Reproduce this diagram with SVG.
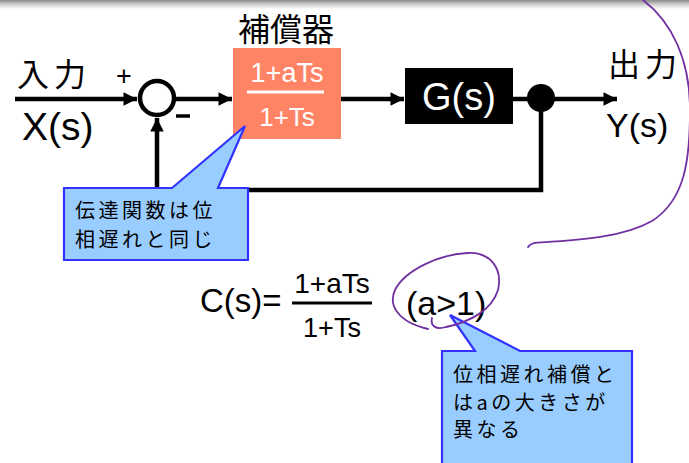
<svg xmlns="http://www.w3.org/2000/svg" width="689" height="463" viewBox="0 0 689 463">
<defs>
<linearGradient id="topShade" x1="0" y1="0" x2="0" y2="1">
<stop offset="0" stop-color="#8a8a8a"/>
<stop offset="0.5" stop-color="#d0d0d0"/>
<stop offset="1" stop-color="#ffffff"/>
</linearGradient>
<marker id="arr" viewBox="0 0 10 10" refX="10" refY="5" markerWidth="3.4" markerHeight="3" markerUnits="strokeWidth" orient="auto">
<path d="M0,0 L10,5 L0,10 z" fill="#000"/>
</marker>
</defs>
<style>
.lat{font-family:"Liberation Sans",Arial,sans-serif;}
.jp{font-family:"Noto Sans CJK JP","Noto Sans",sans-serif;}
.wire{fill:none;stroke:#000;stroke-width:4.5;}
.callout{fill:#99CCFF;stroke:#3333FF;stroke-width:2.2;}
.ct{font-family:"Noto Sans CJK JP","Noto Sans",sans-serif;font-size:20px;letter-spacing:3.5px;}
.pen{fill:none;stroke:#7030A0;stroke-width:1.8;stroke-linecap:round;}
</style>
<rect width="689" height="463" fill="#fff"/>
<rect x="0" y="0" width="689" height="9" fill="url(#topShade)"/>

<g id="connectors">
<line class="wire" x1="15" y1="99" x2="137" y2="99" marker-end="url(#arr)"/>
<line class="wire" x1="175" y1="99" x2="232" y2="99" marker-end="url(#arr)"/>
<line class="wire" x1="341" y1="99" x2="404" y2="99" marker-end="url(#arr)"/>
<line class="wire" x1="513" y1="99" x2="530" y2="99"/>
<line class="wire" x1="552" y1="99" x2="617" y2="99" marker-end="url(#arr)"/>
<polyline class="wire" points="541,99 541,190 157,190 157,118" stroke-linejoin="miter" marker-end="url(#arr)"/>
</g>

<g id="input">
<text class="jp" x="17" y="86" font-size="32" letter-spacing="5">入力</text>
<text class="lat" x="22" y="140" font-size="39">X(s)</text>
</g>

<g id="sum">
<circle cx="157" cy="98" r="17" fill="#fff" stroke="#000" stroke-width="4.5"/>
<text class="lat" x="124" y="85" font-size="27" text-anchor="middle">+</text>
<line x1="176" y1="116" x2="190" y2="116" stroke="#000" stroke-width="3.5"/>
</g>

<g id="compensator">
<text class="jp" x="286" y="41" font-size="32" text-anchor="middle">補償器</text>
<rect x="233" y="48" width="108" height="91" fill="#FF8466"/>
<text class="lat" x="287" y="82" font-size="27" fill="#fff" text-anchor="middle">1+aTs</text>
<line x1="247" y1="92" x2="324" y2="92" stroke="#fff" stroke-width="3"/>
<text class="lat" x="287" y="126" font-size="26" fill="#fff" text-anchor="middle">1+Ts</text>
</g>

<g id="plant">
<rect x="405" y="68" width="108" height="56" fill="#000"/>
<text class="lat" x="459" y="110" font-size="38" fill="#fff" text-anchor="middle">G(s)</text>
</g>

<g id="junction">
<circle cx="541" cy="98" r="14" fill="#000"/>
</g>

<g id="output">
<text class="jp" x="608" y="76" font-size="32" letter-spacing="5">出力</text>
<text class="lat" x="606" y="137" font-size="34">Y(s)</text>
</g>

<g id="callout1">
<path class="callout" d="M64,188 L172,188 L245,126 L218,188 L248,188 L248,260 L64,260 z"/>
<text class="ct" x="75" y="218">伝達関数は位</text>
<text class="ct" x="75" y="247">相遅れと同じ</text>
</g>

<g id="formula">
<text class="lat" x="200" y="312" font-size="33">C(s)=</text>
<text class="lat" x="332" y="293" font-size="28" text-anchor="middle">1+aTs</text>
<line x1="292" y1="303" x2="372" y2="303" stroke="#000" stroke-width="3"/>
<text class="lat" x="332" y="337" font-size="27" text-anchor="middle">1+Ts</text>
<text class="lat" x="406" y="315" font-size="34">(a&gt;1)</text>
</g>

<g id="callout2">
<path class="callout" d="M442,351 L475,351 L450,315 L520,351 L632,351 L632,466 L442,466 z"/>
<text class="ct" x="453" y="382">位相遅れ補償と</text>
<text class="ct" x="453" y="410">はaの大きさが</text>
<text class="ct" x="453" y="437">異なる</text>
</g>

<g id="annotations">
<path class="pen" d="M643,0 C672,22 690,60 690,110 C690,160 685,200 652,221 C622,238 578,240 534,243 C531,244 529,245 528,247"/>
<path class="pen" d="M432,318 C430,326 436,330 446,327 C470,322 492,310 498,290 C503,268 490,252 468,253 C440,254 405,270 395,290 C388,305 398,322 428,329"/>
</g>
</svg>
